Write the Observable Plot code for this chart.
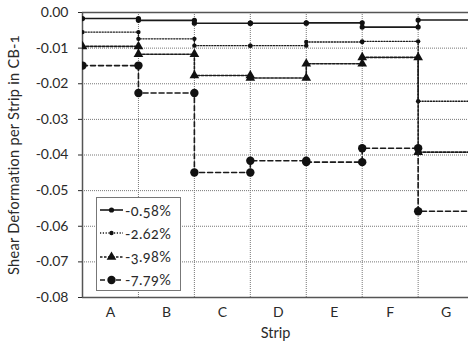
<!DOCTYPE html>
<html><head><meta charset="utf-8">
<script src="https://cdn.jsdelivr.net/npm/d3@7"></script>
<script src="https://cdn.jsdelivr.net/npm/@observablehq/plot@0.6"></script>
<style>
body{margin:0;background:#fff;}
#wrap{position:relative;width:468px;height:343px;overflow:hidden;font-family:Lato,"Open Sans",sans-serif;font-variant-numeric:oldstyle-nums;}
#wrap svg{font-family:Lato,"Open Sans",sans-serif;font-variant-numeric:oldstyle-nums;}
#legend{position:absolute;left:96px;top:197px;width:85px;height:94px;border:1.5px solid #777;background:#fff;box-sizing:border-box;}
.row{position:absolute;left:2px;height:16px;display:flex;align-items:center;font-size:14.5px;letter-spacing:0.4px;color:#2a2a2a;}
</style></head><body><div id="wrap"></div>
<script>
const strips = ["A","B","C","D","E","F","G"];
const seriesNames = ["-0.58%","-2.62%","-3.98%","-7.79%"];
const s058 = [-0.0017,-0.0022,-0.0030,-0.0030,-0.0029,-0.0041,-0.0021];
const s262 = [-0.0055,-0.0074,-0.0093,-0.0093,-0.0083,-0.0081,-0.0249];
const s398 = [-0.0095,-0.0117,-0.0177,-0.0184,-0.0144,-0.0126,-0.0392];
const s779 = [-0.0149,-0.0226,-0.0449,-0.0416,-0.0420,-0.0381,-0.0558];
const yTicks = [0,-0.01,-0.02,-0.03,-0.04,-0.05,-0.06,-0.07,-0.08];

const styles = [
  {dash:null, w:1.6, symbol:"circle", r:2.6},
  {dash:"1.2,1.6", w:1.4, symbol:"circle", r:2.2},
  {dash:"2.5,1.5", w:1.6, symbol:"triangle", r:3.6},
  {dash:"5,3", w:1.6, symbol:"circle", r:4.2}
];
const allValues = [s058, s262, s398, s779];

function steps(vals){
  const pts = [];
  vals.forEach((v,i)=>{ pts.push({x:i,y:v}); pts.push({x:i+1,y:v}); });
  return pts;
}

const marks = [
  Plot.gridY(yTicks.slice(1,-1), {stroke:"#777", strokeOpacity:1, strokeDasharray:"1,1", strokeWidth:1}),
  Plot.gridX(d3.range(1,7), {stroke:"#777", strokeOpacity:1, strokeDasharray:"1,1", strokeWidth:1}),
  Plot.ruleY([0], {stroke:"#555", strokeWidth:1.5}),
  Plot.ruleY([-0.08], {stroke:"#555", strokeWidth:1.5}),
  Plot.ruleX([0], {stroke:"#555", strokeWidth:1.5}),
  Plot.axisY({ticks:yTicks, tickSize:4, tickPadding:10, fontSize:14, fill:"#2a2a2a",
    tickFormat:d=> d===0 ? "0.00" : "-" + Math.abs(d).toFixed(2),
    label:"Shear Deformation per Strip in CB-1", labelAnchor:"center", labelArrow:"none", labelOffset:74}),
  Plot.axisX({ticks:d3.range(7).map(i=>i+0.5), tickSize:0, tickPadding:10, fontSize:14, fill:"#2a2a2a",
    tickFormat:d=>strips[Math.floor(d)], label:"Strip", labelAnchor:"center", labelArrow:"none", labelOffset:40})
];
allValues.forEach((vals,k)=>{
  const st = styles[k];
  const pts = steps(vals);
  marks.push(Plot.line(pts, {x:"x", y:"y", stroke:"#1a1a1a", strokeWidth:st.w, strokeDasharray:st.dash, clip:true}));
  marks.push(Plot.dot(pts, {x:"x", y:"y", symbol:st.symbol, r:st.r, fill:"#111", stroke:"none", clip:true}));
});

const chart = Plot.plot({
  width:468, height:343,
  marginLeft:82, marginRight:0, marginTop:12, marginBottom:46,
  style:{fontSize:"14px", color:"#2a2a2a", background:"#fff"},
  x:{type:"linear", domain:[0,6.9]},
  y:{domain:[-0.08,0]},
  marks
});
chart.querySelectorAll('[aria-label="y-axis label"] text').forEach(t=>{t.setAttribute("font-size","14.5");t.setAttribute("letter-spacing","0.3");});
chart.querySelectorAll('[aria-label="x-axis label"] text').forEach(t=>t.setAttribute("font-size","14.5"));
const wrap = document.getElementById("wrap");
wrap.appendChild(chart);

const legend = document.createElement("div");
legend.id = "legend";
wrap.appendChild(legend);
const symbolPaths = {circle:d3.symbolCircle, diamond:d3.symbolDiamond, triangle:d3.symbolTriangle};
seriesNames.forEach((name,k)=>{
  const st = styles[k];
  const row = document.createElement("div");
  row.className = "row";
  row.style.top = (4 + k*23.3) + "px";
  const svg = d3.create("svg").attr("width",25).attr("height",14).style("margin-right","1px");
  svg.append("line").attr("x1",1).attr("x2",24).attr("y1",7).attr("y2",7)
    .attr("stroke","#1a1a1a").attr("stroke-width",st.w).attr("stroke-dasharray",st.dash);
  const area = Math.PI*st.r*st.r;
  svg.append("path").attr("d", d3.symbol(symbolPaths[st.symbol], area)()).attr("transform","translate(12.5,7)").attr("fill","#111");
  row.appendChild(svg.node());
  const span = document.createElement("span");
  span.textContent = name;
  row.appendChild(span);
  legend.appendChild(row);
});
</script>
</body></html>
